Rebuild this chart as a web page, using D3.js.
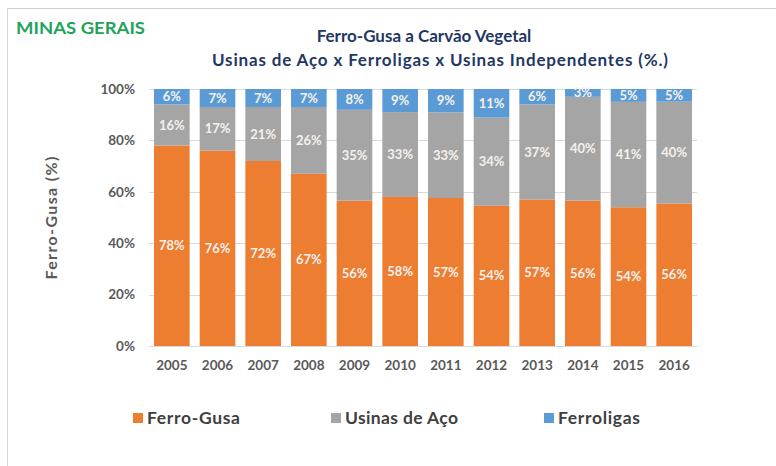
<!DOCTYPE html>
<html>
<head>
<meta charset="utf-8">
<script src="https://cdn.jsdelivr.net/npm/d3@7"></script>
<style>
  body { margin: 0; background: #fff; }
  text { font-family: Lato, "Open Sans", sans-serif; }
</style>
</head>
<body>
<div id="chart-area"></div>
<script>
var years = ["2005", "2006", "2007", "2008", "2009", "2010", "2011", "2012", "2013", "2014", "2015", "2016"];
var ferroGusa = [78, 76, 72, 67, 56, 58, 57, 54, 57, 56, 54, 56];
var usinasAco = [16, 17, 21, 26, 35, 33, 33, 34, 37, 40, 41, 40];
var ferroligas = [6, 7, 7, 7, 8, 9, 9, 11, 6, 3, 5, 5];
var seriesNames = ["Ferro-Gusa", "Usinas de Aço", "Ferroligas"];
var colors = ["#ed7d31", "#a5a5a5", "#5b9bd5"];
var yTicks = [0, 0.2, 0.4, 0.6, 0.8, 1];

var width = 776, height = 466;
var plot = {left: 149, right: 697, top: 89, bottom: 346};

var svg = d3.select("#chart-area")
    .append("svg")
        .attr("width", width)
        .attr("height", height);

// frame lines (top + left)
svg.append("line").attr("x1", 7).attr("x2", width).attr("y1", 8.5).attr("y2", 8.5)
    .attr("stroke", "#d0d0d0");
svg.append("line").attr("x1", 7.5).attr("x2", 7.5).attr("y1", 8).attr("y2", height)
    .attr("stroke", "#d8d8d8");

svg.append("text")
    .attr("x", 16).attr("y", 34)
    .attr("font-size", "17px").attr("font-weight", "bold")
    .attr("textLength", 129).attr("lengthAdjust", "spacingAndGlyphs")
    .style("fill", "#22a35a")
    .text("MINAS GERAIS");

svg.append("text")
    .attr("x", 424).attr("y", 42)
    .attr("text-anchor", "middle")
    .attr("font-size", "17px").attr("font-weight", "bold")
    .style("fill", "#1f3864")
    .text("Ferro-Gusa a Carvão Vegetal");

svg.append("text")
    .attr("x", 212).attr("y", 66)
    .attr("font-size", "17px").attr("font-weight", "bold")
    .attr("textLength", 456).attr("lengthAdjust", "spacing")
    .style("fill", "#1f3864")
    .text("Usinas de Aço x Ferroligas  x Usinas Independentes (%.)");

var data = years.map(function (y, i) {
    return {year: y, "Ferro-Gusa": ferroGusa[i], "Usinas de Aço": usinasAco[i], "Ferroligas": ferroligas[i]};
});

var stack = d3.stack().keys(seriesNames).offset(d3.stackOffsetExpand);
var layers = stack(data);

var x = d3.scaleBand()
    .domain(years)
    .range([plot.left, plot.right])
    .paddingInner(0.22)
    .paddingOuter(0.11);

var y = d3.scaleLinear().domain([0, 1]).range([plot.bottom, plot.top]);

// gridlines
svg.append("g")
    .selectAll("line")
    .data(yTicks)
    .enter().append("line")
        .attr("x1", plot.left).attr("x2", plot.right)
        .attr("y1", function (d) { return Math.round(y(d)) + 0.5; })
        .attr("y2", function (d) { return Math.round(y(d)) + 0.5; })
        .attr("stroke", "#d9d9d9");

var leftAxis = d3.axisLeft(y).tickValues(yTicks).tickSize(0).tickPadding(14)
    .tickFormat(d3.format(".0%"));
svg.append("g")
    .attr("class", "left axis")
    .attr("transform", "translate(" + plot.left + ",0)")
    .call(leftAxis)
    .call(function (g) { g.select(".domain").remove(); })
    .selectAll("text")
        .attr("font-size", "13.5px").attr("font-weight", "bold")
        .style("fill", "#595959");

var bottomAxis = d3.axisBottom(x).tickSize(0).tickPadding(14);
svg.append("g")
    .attr("class", "bottom axis")
    .attr("transform", "translate(0," + plot.bottom + ")")
    .call(bottomAxis)
    .call(function (g) { g.select(".domain").remove(); })
    .selectAll("text")
        .attr("font-size", "13.5px").attr("font-weight", "bold")
        .style("fill", "#595959");

svg.append("text")
    .attr("transform", "translate(57,218) rotate(-90)")
    .attr("text-anchor", "middle")
    .attr("font-size", "16px").attr("font-weight", "bold")
    .attr("textLength", 123).attr("lengthAdjust", "spacing")
    .style("fill", "#595959")
    .text("Ferro-Gusa  (%)");

var groups = svg.append("g").selectAll("g")
    .data(layers)
    .enter().append("g")
        .attr("fill", function (d, i) { return colors[i]; });

groups.selectAll("rect")
    .data(function (d) { return d; })
    .enter().append("rect")
        .attr("x", function (d) { return x(d.data.year); })
        .attr("y", function (d) { return y(d[1]); })
        .attr("width", x.bandwidth())
        .attr("height", function (d) { return y(d[0]) - y(d[1]); });

groups.each(function (layer) {
    d3.select(this).selectAll("text")
        .data(layer)
        .enter().append("text")
            .attr("x", function (d) { return x(d.data.year) + x.bandwidth() / 2; })
            .attr("y", function (d) { return (y(d[0]) + y(d[1])) / 2; })
            .attr("dy", "0.35em")
            .attr("text-anchor", "middle")
            .attr("font-size", "13px").attr("font-weight", "bold")
            .style("fill", "#f6f1ec")
            .text(function (d) { return d.data[layer.key] + "%"; });
});

// legend
var legendX = [133, 331, 544];
var legendW = [93, 113, 82];
var legend = svg.append("g").selectAll("g")
    .data(seriesNames)
    .enter().append("g")
        .attr("transform", function (d, i) { return "translate(" + legendX[i] + ",418)"; });
legend.append("rect")
    .attr("x", 0).attr("y", -5)
    .attr("width", 10).attr("height", 10)
    .attr("fill", function (d, i) { return colors[i]; });
legend.append("text")
    .attr("x", 14).attr("dy", "0.36em")
    .attr("font-size", "17.5px").attr("font-weight", "bold")
    .attr("textLength", function (d, i) { return legendW[i]; })
    .attr("lengthAdjust", "spacing")
    .style("fill", "#404040")
    .text(function (d) { return d; });
</script>
</body>
</html>
